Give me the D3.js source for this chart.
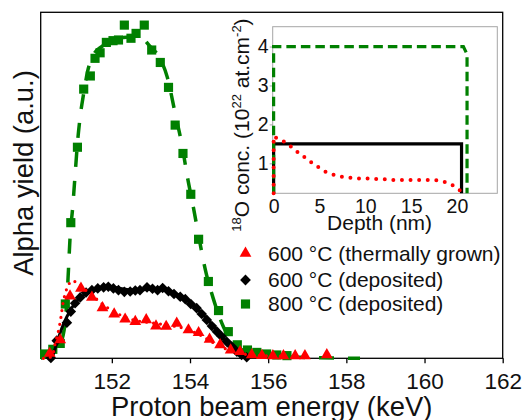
<!doctype html>
<html>
<head>
<meta charset="utf-8">
<title>Alpha yield vs proton energy</title>
<style>
  html, body { margin: 0; padding: 0; background: #fff; }
  svg { display: block; font-family: "Liberation Sans", Arial, sans-serif; }
</style>
</head>
<body>
<div id="chart"></div>
<script src="https://d3js.org/d3.v7.min.js"></script>
<script>

// ---- data (energy keV, alpha yield a.u.) ----
const energyTicks = [152, 154, 156, 158, 160, 162];
const depthTicks = [0, 5, 10, 15, 20];
const concTicks = [1, 2, 3, 4];
const legendLabels = ["600 \u00b0C (thermally grown)", "600 \u00b0C (deposited)", "800 \u00b0C (deposited)"];

// 800 C deposited : squares
const green800 = [
  [150.28, 1.25], [150.49, 2.6], [150.68, 4.3], [150.81, 15.7], [150.95, 39.2], [151.12, 61.0],
  [151.28, 77.8], [151.45, 81.6], [151.57, 86.7], [151.70, 88.3], [151.86, 91.3], [152.03, 91.8],
  [152.17, 92.0], [152.32, 96.3], [152.49, 92.5], [152.62, 93.9], [152.83, 96.3], [153.02, 89.1],
  [153.24, 85.5], [153.45, 78.3], [153.62, 67.4], [153.82, 59.2], [154.02, 47.4], [154.22, 34.4],
  [154.47, 22.2], [154.73, 13.8], [154.98, 7.7], [155.21, 3.9], [155.47, 2.4], [155.71, 1.7],
  [155.96, 1.25], [156.22, 0.96], [156.48, 0.77]
];
const green800Fit = [
  [150.18, 0], [150.42, 1.25], [150.64, 3.4], [150.78, 8.2], [150.85, 16.9], [150.89, 25.5],
  [150.93, 34.7], [151.00, 43.8], [151.06, 53.0], [151.12, 62.1], [151.19, 69.8], [151.28, 76.6],
  [151.38, 82.9], [151.53, 87.7], [151.74, 90.1], [152.04, 91.8], [152.38, 92.8], [152.72, 92.8],
  [152.98, 90.1], [153.19, 87.4], [153.42, 81.2], [153.62, 70.8], [153.79, 61.9], [153.94, 52.0],
  [154.09, 43.4], [154.24, 34.2], [154.39, 25.7], [154.60, 17.1], [154.86, 9.0], [155.11, 4.3],
  [155.45, 1.9], [155.96, 0.9], [156.82, 0.3], [158.35, 0]
];

// 600 C deposited : diamonds
const black600 = [
  [150.44, 0.1], [150.59, 5.1], [150.85, 10.3], [150.95, 13.5], [151.06, 15.9], [151.19, 17.6],
  [151.34, 19.0], [151.49, 19.7], [151.64, 20.2], [151.79, 20.5], [151.91, 20.7], [152.04, 20.2],
  [152.17, 19.7], [152.32, 19.2], [152.47, 19.3], [152.60, 19.6], [152.72, 19.7], [152.90, 20.5],
  [153.04, 20.1], [153.17, 19.7], [153.30, 20.3], [153.45, 19.4], [153.59, 18.6], [153.75, 17.8],
  [153.88, 17.1], [154.02, 15.7], [154.17, 14.5], [154.30, 12.8], [154.43, 11.1], [154.56, 9.3],
  [154.69, 7.7], [154.81, 6.3], [154.94, 4.8], [155.07, 3.4], [155.20, 1.9], [155.32, 1.0], [155.45, 0.3]
];
const black600Fit = [
  [150.47, 0], [150.59, 4.3], [150.72, 8.7], [150.85, 12.0], [151.02, 15.4], [151.23, 17.8],
  [151.53, 19.7], [151.96, 20.5], [152.55, 19.7], [153.24, 20.1], [153.58, 19.0], [153.92, 16.9],
  [154.26, 13.5], [154.60, 9.2], [154.94, 4.8], [155.28, 1.2], [155.50, 0]
];

// 600 C thermally grown : triangles
const red600 = [
  [150.41, 1.4], [150.68, 5.3], [150.93, 18.0], [151.21, 20.2], [151.49, 17.6], [151.76, 14.6],
  [152.06, 12.8], [152.34, 11.3], [152.60, 10.6], [152.88, 11.1], [153.13, 9.3], [153.39, 9.2],
  [153.66, 10.1], [153.96, 8.2], [154.22, 7.4], [154.50, 5.5], [154.77, 3.9], [155.04, 2.4],
  [155.28, 1.9], [155.58, 1.0], [155.84, 0.8], [156.12, 0.7], [156.39, 0.7], [156.69, 0.7],
  [156.94, 0.7], [157.50, 1.0]
];
const red600Fit = [
  [150.25, 0], [150.47, 0.5], [150.55, 4.3], [150.64, 8.2], [150.70, 12.0], [150.75, 15.9],
  [150.81, 18.8], [150.89, 21.2], [150.99, 22.4], [151.10, 21.9], [151.28, 20.2], [151.49, 18.3],
  [151.79, 15.4], [152.13, 13.0], [152.55, 11.1], [152.98, 10.3], [153.41, 9.6], [153.83, 8.7],
  [154.26, 6.7], [154.69, 3.9], [155.11, 1.9], [155.62, 0.9], [156.39, 0.6]
];

// inset : 18O concentration profiles (depth nm, 10^22 at/cm2)
const insetGreen = [[0, 0.23], [0, 4], [20.7, 4], [21.1, 3.8], [21.1, 0.23]];
const insetBlack = [[0, 0.23], [0, 1.5], [20.5, 1.5], [20.5, 0.23]];
const insetRed = [
  [0, 0.23], [0, 1.7], [0.15, 1.67], [1.0, 1.58], [1.7, 1.47], [2.45, 1.32], [3.2, 1.19],
  [3.9, 1.06], [4.7, 0.93], [5.5, 0.8], [6.35, 0.72], [7.3, 0.66], [8.25, 0.63], [9.25, 0.61],
  [10.15, 0.61], [11.1, 0.6], [12.05, 0.59], [13, 0.57], [14, 0.57], [15, 0.57], [16, 0.57],
  [17.5, 0.57], [18.45, 0.54], [19.3, 0.47], [20.05, 0.36], [20.6, 0.25]
];

const width = 526, height = 420;
const m = { left: 40.7, top: 12.3, right: 502.7, bottom: 358.3 };

const svg = d3.select("#chart").append("svg")
    .attr("width", width)
    .attr("height", height);

const x = d3.scaleLinear().domain([150.18, 162]).range([m.left, m.right]);
const y = d3.scaleLinear().domain([0, 100]).range([m.bottom, m.top]);

const line = d3.line().x(d => x(d[0])).y(d => y(d[1])).curve(d3.curveMonotoneX);

// frame
svg.append("rect")
    .attr("x", m.left).attr("y", m.top)
    .attr("width", m.right - m.left).attr("height", m.bottom - m.top)
    .attr("fill", "none").attr("stroke", "#000").attr("stroke-width", 1.3);

// x axis
const xAxis = svg.append("g")
    .attr("transform", `translate(0,${m.bottom})`)
    .call(d3.axisBottom(x).tickValues(energyTicks).tickSize(5).tickPadding(10).tickFormat(d3.format("d")));
xAxis.select(".domain").remove();
xAxis.selectAll("line").attr("stroke", "#000").attr("stroke-width", 1.3);
xAxis.selectAll("text").attr("font-size", 22.5).attr("fill", "#111")
    .attr("font-family", "Liberation Sans, Arial, sans-serif");

svg.append("text")
    .attr("x", (m.left + m.right) / 2)
    .attr("y", 416)
    .attr("text-anchor", "middle")
    .attr("font-size", 27.4)
    .attr("fill", "#111")
    .text("Proton beam energy (keV)");

svg.append("text")
    .attr("transform", "translate(33,173) rotate(-90)")
    .attr("text-anchor", "middle")
    .attr("font-size", 27.4)
    .attr("fill", "#111")
    .text("Alpha yield (a.u.)");

// series
svg.append("g").selectAll("path")
    .data(green800)
  .join("path")
    .attr("transform", d => `translate(${x(d[0])},${y(d[1])})`)
    .attr("d", d3.symbol().type(d3.symbolSquare).size(84))
    .attr("fill", "#008000");

svg.append("path")
    .datum(green800Fit)
    .attr("d", line)
    .attr("fill", "none")
    .attr("stroke", "#008000")
    .attr("stroke-width", 3.5)
    .attr("stroke-dasharray", "15,14");

svg.append("path")
    .datum(black600Fit)
    .attr("d", line)
    .attr("fill", "none")
    .attr("stroke", "#000")
    .attr("stroke-width", 3);

svg.append("g").selectAll("path")
    .data(black600)
  .join("path")
    .attr("transform", d => `translate(${x(d[0])},${y(d[1])}) rotate(45)`)
    .attr("d", d3.symbol().type(d3.symbolSquare).size(56))
    .attr("fill", "#000");

svg.append("g").selectAll("path")
    .data(red600)
  .join("path")
    .attr("transform", d => `translate(${x(d[0])},${y(d[1])})`)
    .attr("d", d3.symbol().type(d3.symbolTriangle).size(60))
    .attr("fill", "#ff0000");

svg.append("path")
    .datum(red600Fit)
    .attr("d", line)
    .attr("fill", "none")
    .attr("stroke", "#ff0000")
    .attr("stroke-width", 3.2)
    .attr("stroke-linecap", "round")
    .attr("stroke-dasharray", "0,7");

// legend
const legendY = [253.3, 280, 304];
const legendShapes = [
  { type: d3.symbolTriangle, size: 60, fill: "#ff0000", rot: 0 },
  { type: d3.symbolSquare, size: 58, fill: "#000", rot: 45 },
  { type: d3.symbolSquare, size: 84, fill: "#008000", rot: 0 }
];
const legend = svg.append("g");
legendLabels.forEach((t, i) => {
  legend.append("path")
      .attr("transform", `translate(245.5,${legendY[i]}) rotate(${legendShapes[i].rot})`)
      .attr("d", d3.symbol().type(legendShapes[i].type).size(legendShapes[i].size))
      .attr("fill", legendShapes[i].fill);
  legend.append("text")
      .attr("x", 268)
      .attr("y", legendY[i] + 7.3)
      .attr("font-size", 21)
      .attr("fill", "#111")
      .text(t);
});

// ---- inset ----
const ins = { left: 272.7, top: 26.7, right: 497.3, bottom: 193.3 };
const ix = d3.scaleLinear().domain([-0.1, 24.4]).range([ins.left, ins.right]);
const iy = d3.scaleLinear().domain([0.23, 4.51]).range([ins.bottom, ins.top]);
const iline = d3.line().x(d => ix(d[0])).y(d => iy(d[1]));

svg.append("rect")
    .attr("x", ins.left).attr("y", ins.top)
    .attr("width", ins.right - ins.left).attr("height", ins.bottom - ins.top)
    .attr("fill", "#fff").attr("stroke", "#a6a6a6").attr("stroke-width", 1);

const iyAxis = svg.append("g")
    .attr("transform", `translate(${ins.left},0)`)
    .call(d3.axisLeft(iy).tickValues(concTicks).tickSize(3).tickPadding(1).tickFormat(d3.format("d")));
iyAxis.select(".domain").remove();
iyAxis.selectAll("line").attr("stroke", "#a6a6a6");
iyAxis.selectAll("text").attr("font-size", 19.5).attr("fill", "#111")
    .attr("font-family", "Liberation Sans, Arial, sans-serif");

const ixAxis = svg.append("g")
    .attr("transform", `translate(0,${ins.bottom})`)
    .call(d3.axisBottom(ix).tickValues(depthTicks).tickSize(0).tickPadding(6).tickFormat(d3.format("d")));
ixAxis.select(".domain").remove();
ixAxis.selectAll("text").attr("font-size", 19.5).attr("fill", "#111")
    .attr("font-family", "Liberation Sans, Arial, sans-serif");

svg.append("text")
    .attr("x", (ix(0) + ix(20.5)) / 2 + 12)
    .attr("y", 230)
    .attr("text-anchor", "middle")
    .attr("font-size", 21)
    .attr("fill", "#111")
    .text("Depth (nm)");

const ititle = svg.append("text")
    .attr("transform", "translate(249,125) rotate(-90)")
    .attr("text-anchor", "middle")
    .attr("font-size", 21)
    .attr("fill", "#111");
ititle.append("tspan").attr("font-size", 13).attr("dy", -8).text("18");
ititle.append("tspan").attr("dy", 8).text("O conc. (10");
ititle.append("tspan").attr("font-size", 13).attr("dy", -8).text("22");
ititle.append("tspan").attr("dy", 8).text(" at.cm");
ititle.append("tspan").attr("font-size", 13).attr("dy", -8).text("-2");
ititle.append("tspan").attr("dy", 8).text(")");

svg.append("path")
    .datum(insetBlack)
    .attr("d", iline)
    .attr("fill", "none")
    .attr("stroke", "#000")
    .attr("stroke-width", 3.2);

svg.append("path")
    .datum(insetGreen)
    .attr("d", iline)
    .attr("fill", "none")
    .attr("stroke", "#008000")
    .attr("stroke-width", 3.2)
    .attr("stroke-dasharray", "9.5,5");

svg.append("path")
    .datum(insetRed)
    .attr("d", iline)
    .attr("fill", "none")
    .attr("stroke", "#ff0000")
    .attr("stroke-width", 4)
    .attr("stroke-linecap", "round")
    .attr("stroke-dasharray", "0,8.6");

</script>
</body>
</html>
